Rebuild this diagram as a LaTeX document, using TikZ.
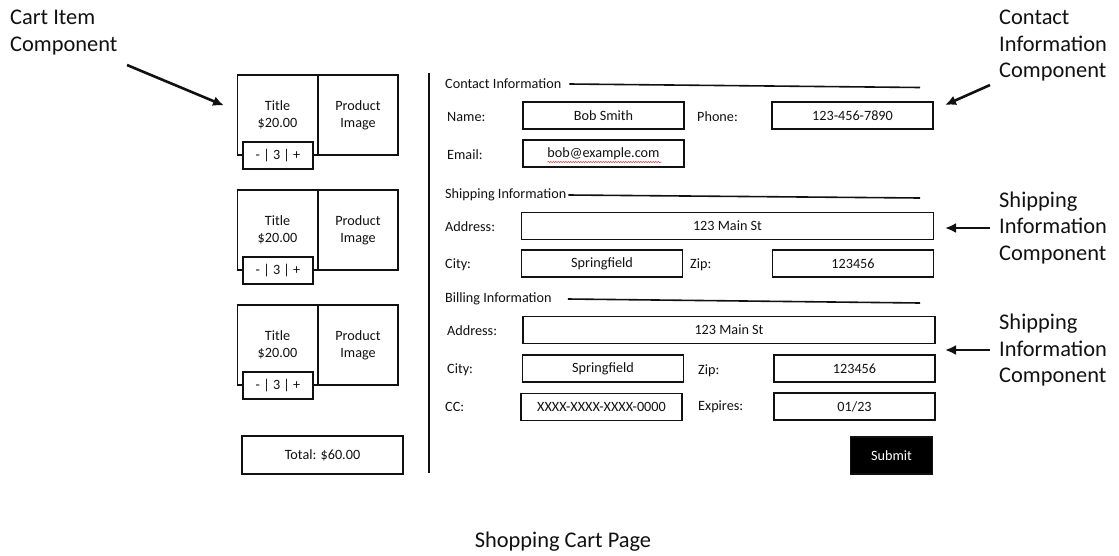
\documentclass[tikz,border=0pt]{standalone}
\usepackage{fontspec}
\setmainfont{Carlito}
\usepackage{xcolor}
\usetikzlibrary{arrows.meta,decorations.pathmorphing}
\definecolor{mockink}{HTML}{111111}
\definecolor{spellred}{HTML}{D03030}

\begin{document}
\begin{tikzpicture}[
    x=1pt, y=-1pt,
    field/.style={draw=mockink, line width=1.8pt, minimum height=27pt, inner sep=0pt,
      font=\fontsize{14.2}{17}\selectfont, text=mockink},
    shortfield/.style={field, minimum width=161pt},
    longfield/.style={field, minimum width=412pt},
    cell/.style={draw=mockink, line width=1.8pt, minimum width=80pt, minimum height=80pt,
      inner sep=0pt, align=center, font=\fontsize{14.2}{17}\selectfont, text=mockink},
    stepper/.style={field, fill=white, minimum width=70pt},
    lbl/.style={font=\fontsize{14.2}{17}\selectfont, text=mockink, anchor=west, inner sep=0pt},
    note/.style={font=\fontsize{22.4}{26.5}\selectfont, text=mockink, align=left, anchor=west, inner sep=0pt},
    rule/.style={draw=mockink, line width=1.6pt},
    pointer/.style={draw=mockink, line width=2.6pt, -{Latex[length=11pt,width=10pt]}},
  ]

  \useasboundingbox (0,0) rectangle (1119,555);

  % ---------- cart items
  \begin{scope}[shift={(0,0)}]
    \node[cell] (title1) at (277.5,115) {Title\\\$20.00};
    \node[cell] (image1) at (358,115) {Product\\Image};
    \node[stepper] (qty1) at (278,155.5) {- | 3 | +};
  \end{scope}

  \begin{scope}[shift={(0,115)}]
    \node[cell] (title2) at (277.5,115) {Title\\\$20.00};
    \node[cell] (image2) at (358,115) {Product\\Image};
    \node[stepper] (qty2) at (278,155.5) {- | 3 | +};
  \end{scope}

  \begin{scope}[shift={(0,230)}]
    \node[cell] (title3) at (277.5,115) {Title\\\$20.00};
    \node[cell] (image3) at (358,115) {Product\\Image};
    \node[stepper] (qty3) at (278,155.5) {- | 3 | +};
  \end{scope}

  \node[shortfield, minimum height=38pt] (total) at (322.5,455) {Total: \$60.00};

  % ---------- divider
  \coordinate (divtop) at (429,73);
  \coordinate (divbot) at (429,473);
  \draw[rule] (divtop) -- (divbot);

  % ---------- contact information
  \node[lbl] (contacthead) at (445,84) {Contact Information};
  \coordinate (contactend) at (920,87.5);
  \draw[rule] ([xshift=8pt]contacthead.east) -- (contactend);
  \node[lbl] (namelbl) at (447,117) {Name:};
  \node[shortfield] (namebox) at (603.5,115.5) {Bob Smith};
  \node[lbl] (phonelbl) at (697,117) {Phone:};
  \node[shortfield] (phonebox) at (852.5,115.5) {123-456-7890};
  \node[lbl] (emaillbl) at (447,155) {Email:};
  \node[shortfield] (emailbox) at (603.5,153.5) {bob@example.com};
  \draw[spellred, line width=0.5pt, decorate,
    decoration={snake, amplitude=0.6pt, segment length=2.5pt}]
    ([xshift=-56pt,yshift=-8.5pt]emailbox.center) -- ([xshift=58pt,yshift=-8.5pt]emailbox.center);

  % ---------- shipping information
  \node[lbl] (shiphead) at (445,195) {Shipping Information};
  \coordinate (shipend) at (920,198);
  \draw[rule] ([xshift=2pt]shiphead.east) -- (shipend);
  \node[lbl] (shipaddrlbl) at (445,227) {Address:};
  \node[longfield] (shipaddrbox) at (727.5,226) {123 Main St};
  \node[lbl] (shipcitylbl) at (445,265) {City:};
  \node[shortfield] (shipcitybox) at (602,263.5) {Springfield};
  \node[lbl] (shipziplbl) at (690,265) {Zip:};
  \node[shortfield] (shipzipbox) at (853,263.5) {123456};

  % ---------- billing information
  \node[lbl] (billhead) at (445,299) {Billing Information};
  \coordinate (billend) at (920,303);
  \draw[rule] ([xshift=16pt]billhead.east) -- (billend);
  \node[lbl] (billaddrlbl) at (447,331) {Address:};
  \node[longfield] (billaddrbox) at (729,330) {123 Main St};
  \node[lbl] (billcitylbl) at (447,370) {City:};
  \node[shortfield] (billcitybox) at (603,368.5) {Springfield};
  \node[lbl] (billziplbl) at (698,371) {Zip:};
  \node[shortfield] (billzipbox) at (854.5,368.5) {123456};
  \node[lbl] (cclbl) at (445,407) {CC:};
  \node[shortfield] (ccbox) at (601.5,407) {XXXX-XXXX-XXXX-0000};
  \node[lbl] (expireslbl) at (698,407) {Expires:};
  \node[shortfield] (expiresbox) at (854.5,406.5) {01/23};

  \node[field, fill=black, text=white, minimum width=82pt, minimum height=37pt] (submit)
    at (891.5,455.5) {Submit};

  % ---------- component callouts
  \node[note] (cartnote) at (10,32.5) {Cart Item\\Component};
  \coordinate (cartfrom) at (127,65);
  \coordinate (cartto) at (224,105.5);
  \draw[pointer] (cartfrom) -- (cartto);

  \node[note] (contactnote) at (999,46) {Contact\\Information\\Component};
  \coordinate (contactfrom) at (990,85);
  \coordinate (contactto) at (945,105);
  \draw[pointer] (contactfrom) -- (contactto);

  \node[note] (shipnote) at (999,228) {Shipping\\Information\\Component};
  \coordinate (shipto) at (945,228);
  \draw[pointer] ([xshift=-9pt]shipnote.west |- shipto) -- (shipto);

  \node[note] (billnote) at (999,350.5) {Shipping\\Information\\Component};
  \coordinate (billto) at (945,350);
  \draw[pointer] ([xshift=-9pt]billnote.west |- billto) -- (billto);

  \node[font=\fontsize{22.4}{26}\selectfont, text=mockink] (pagecap) at (563,542) {Shopping Cart Page};

\end{tikzpicture}
\end{document}
